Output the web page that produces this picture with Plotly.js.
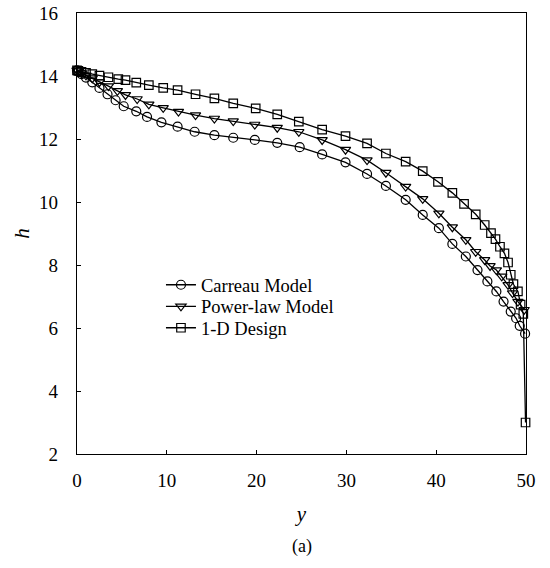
<!DOCTYPE html>
<html>
<head>
<meta charset="utf-8">
<script src="https://cdn.plot.ly/plotly-3.0.1.min.js"></script>
<style>
html,body{margin:0;padding:0;background:#fff;}
#chart{width:550px;height:568px;}
#chart text{font-family:"Liberation Serif","Times New Roman",serif !important;}
</style>
</head>
<body>
<div id="chart"></div>
<script>
// Carreau Model
const carreauY = [0, 0.15, 0.5, 1.0, 1.7, 2.5, 3.4, 4.3, 5.2, 6.6, 7.8, 9.4, 11.2, 13.1, 15.3, 17.4, 19.8, 22.3, 24.8, 27.3, 29.9, 32.3, 34.4, 36.6, 38.5, 40.3, 41.8, 43.3, 44.6, 45.7, 46.7, 47.5, 48.3, 48.9, 49.3, 49.9];
const carreauH = [14.18, 14.14, 14.06, 13.95, 13.80, 13.62, 13.42, 13.23, 13.04, 12.88, 12.70, 12.53, 12.39, 12.23, 12.12, 12.04, 11.97, 11.88, 11.74, 11.51, 11.26, 10.89, 10.51, 10.07, 9.59, 9.17, 8.67, 8.27, 7.84, 7.48, 7.16, 6.84, 6.52, 6.31, 6.07, 5.82];
// Power-law Model
const powerY = [0, 0.15, 0.5, 1.0, 1.7, 2.5, 3.5, 4.5, 5.4, 6.7, 8.0, 9.6, 11.3, 13.2, 15.3, 17.4, 19.8, 22.3, 24.7, 27.3, 29.9, 32.3, 34.4, 36.6, 38.5, 40.3, 41.8, 43.3, 44.4, 45.4, 46.0, 46.7, 47.3, 48.0, 48.5, 49.1, 49.8];
const powerH = [14.18, 14.15, 14.09, 14.02, 13.93, 13.81, 13.68, 13.53, 13.40, 13.27, 13.10, 12.99, 12.87, 12.76, 12.65, 12.57, 12.46, 12.36, 12.23, 11.97, 11.66, 11.33, 10.93, 10.49, 10.10, 9.64, 9.20, 8.80, 8.42, 8.16, 7.97, 7.84, 7.64, 7.37, 7.11, 6.84, 6.58];
// 1-D Design
const designY = [0, 0.15, 0.5, 1.0, 1.7, 2.5, 3.5, 4.6, 5.4, 6.6, 8.0, 9.6, 11.2, 13.2, 15.3, 17.4, 19.9, 22.3, 24.7, 27.3, 29.9, 32.3, 34.4, 36.6, 38.5, 40.2, 41.8, 43.1, 44.4, 45.4, 46.1, 46.6, 47.1, 47.6, 48.0, 48.3, 48.6, 49.1, 49.4, 49.7, 49.95];
const designH = [14.18, 14.16, 14.13, 14.10, 14.06, 14.01, 13.96, 13.90, 13.87, 13.79, 13.71, 13.62, 13.55, 13.42, 13.29, 13.13, 12.97, 12.78, 12.55, 12.30, 12.09, 11.86, 11.54, 11.28, 10.98, 10.64, 10.29, 9.94, 9.61, 9.27, 9.01, 8.82, 8.58, 8.37, 8.08, 7.69, 7.39, 7.16, 6.74, 6.45, 3.0];

const seriesNames = ["Carreau Model", "Power-law Model", "1-D Design"];
const xTicks = [0, 10, 20, 30, 40, 50];
const yTicks = [2, 4, 6, 8, 10, 12, 14, 16];

const FONT = "Liberation Serif";
function tr(x, y, name, symbol, size, legendId) {
  return {
    x: x, y: y, name: name, type: "scatter", mode: "lines+markers",
    line: {color: "#000", width: 1.3},
    marker: {symbol: symbol, size: size, color: "#000", line: {color: "#000", width: 1.2}},
    cliponaxis: false, legend: legendId
  };
}
const data = [
  tr(carreauY, carreauH, seriesNames[0], "circle-open", 9, "legend"),
  tr(powerY, powerH, seriesNames[1], "triangle-down-open", 9, "legend2"),
  tr(designY, designH, seriesNames[2], "square-open", 8.5, "legend3")
];
const axisCommon = {
  showgrid: false, zeroline: false, showline: true, linecolor: "#000", linewidth: 1.2,
  mirror: true, ticks: "inside", ticklen: 4, tickwidth: 1, tickcolor: "#000",
  tickfont: {family: FONT, size: 19, color: "#000"}
};
function leg(y) {
  return {x: 0.187, y: y, xanchor: "left", yanchor: "middle", bgcolor: "rgba(0,0,0,0)",
          font: {family: FONT, size: 18.5, color: "#000"}};
}
const layout = {
  width: 550, height: 568,
  margin: {l: 77, r: 24, t: 13, b: 114},
  paper_bgcolor: "#fff", plot_bgcolor: "#fff",
  font: {family: FONT, color: "#000", size: 19},
  showlegend: true,
  legend: leg(0.3827), legend2: leg(0.3339), legend3: leg(0.2852),
  xaxis: Object.assign({}, axisCommon, {
    range: [0, 50], tickmode: "array", tickvals: xTicks, ticktext: xTicks.map(String),
    ticklabelstandoff: 9,
    title: {text: "<i>y</i>", font: {family: FONT, size: 21, color: "#000"}, standoff: 16}
  }),
  yaxis: Object.assign({}, axisCommon, {
    range: [2, 16], tickmode: "array", tickvals: yTicks, ticktext: yTicks.map(String),
    ticklabelstandoff: 14,
    title: {text: "<i>h</i>", font: {family: FONT, size: 21, color: "#000"}, standoff: 3}
  }),
  annotations: [{
    text: "(a)", xref: "paper", yref: "paper", x: 0.5, y: -0.21, yanchor: "middle",
    showarrow: false, font: {family: FONT, size: 18, color: "#000"}
  }]
};
Plotly.newPlot("chart", data, layout, {displayModeBar: false, staticPlot: true});
</script>
</body>
</html>
